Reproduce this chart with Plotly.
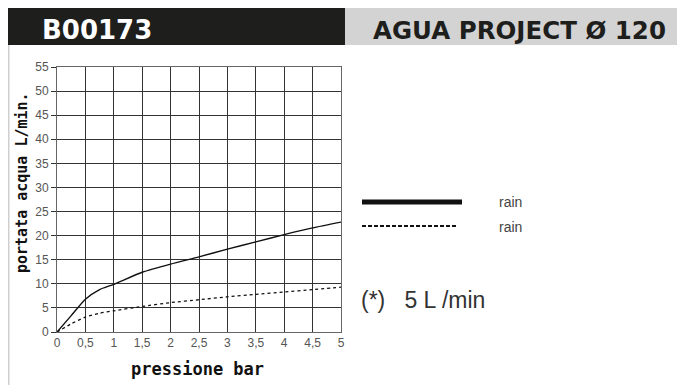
import plotly.graph_objects as go

# ---- data ----
pressure = [0, 0.25, 0.5, 0.75, 1, 1.5, 2, 2.5, 3, 3.5, 4, 4.5, 5]
flow_solid = [0, 3.4, 6.8, 8.8, 9.9, 12.4, 14.1, 15.6, 17.2, 18.7, 20.2, 21.6, 22.8]
flow_dashed = [0, 1.7, 3.1, 3.9, 4.4, 5.3, 6.1, 6.7, 7.3, 7.8, 8.3, 8.8, 9.3]
x_ticks = [0, 0.5, 1, 1.5, 2, 2.5, 3, 3.5, 4, 4.5, 5]
x_ticklabels = ["0", "0,5", "1", "1,5", "2", "2,5", "3", "3,5", "4", "4,5", "5"]
y_ticks = [0, 5, 10, 15, 20, 25, 30, 35, 40, 45, 50, 55]
legend_labels = ["rain", "rain"]
code = "B00173"
title = "AGUA PROJECT Ø 120"
note = "(*)   5 L /min"

OFF = 8  # page body margin
W, H = 685 - OFF, 385 - OFF
L, R, T, B = 57, 341, 67, 332


def px(x):
    return (x - L) / (R - L)


def py(y):
    return (B - y) / (B - T)


fig = go.Figure()
fig.add_trace(go.Scatter(x=pressure, y=flow_solid, mode="lines",
                         line=dict(color="#111", width=1.4, shape="spline", smoothing=0.6),
                         showlegend=False, hoverinfo="skip"))
fig.add_trace(go.Scatter(x=pressure, y=flow_dashed, mode="lines",
                         line=dict(color="#111", width=1.3, dash="3px,3px", shape="spline", smoothing=0.6),
                         showlegend=False, hoverinfo="skip"))

shapes = []
# header boxes
shapes.append(dict(type="rect", xref="paper", yref="paper", x0=px(6), x1=px(345), y0=py(45), y1=py(7),
                   fillcolor="#1e1e1c", line=dict(width=0), layer="below"))
shapes.append(dict(type="rect", xref="paper", yref="paper", x0=px(345), x1=px(690), y0=py(45), y1=py(7),
                   fillcolor="#d3d3d3", line=dict(width=0), layer="below"))
# left gray bar
shapes.append(dict(type="rect", xref="paper", yref="paper", x0=px(7), x1=px(9.5), y0=py(390), y1=py(45),
                   fillcolor="#cfcfcf", line=dict(width=0), layer="below"))
# legend samples
shapes.append(dict(type="line", xref="paper", yref="paper", x0=px(362), x1=px(462), y0=py(202), y1=py(202),
                   line=dict(color="#111", width=5)))
shapes.append(dict(type="line", xref="paper", yref="paper", x0=px(362), x1=px(458), y0=py(226), y1=py(226),
                   line=dict(color="#111", width=2, dash="4px,2px")))

annotations = [
    dict(text=code, x=px(40), y=py(30), xref="paper", yref="paper", xanchor="left", yanchor="middle",
         showarrow=False, font=dict(family="DejaVu Sans", size=26, color="white", weight="bold")),
    dict(text=title, x=px(371), y=py(30), xref="paper", yref="paper", xanchor="left", yanchor="middle",
         showarrow=False, font=dict(family="DejaVu Sans", size=24.5, color="#1e1e1c", weight="bold")),
    dict(text=legend_labels[0], x=px(497), y=py(202), xref="paper", yref="paper", xanchor="left",
         yanchor="middle", showarrow=False, font=dict(family="Liberation Sans", size=14, color="#444")),
    dict(text=legend_labels[1], x=px(497), y=py(227), xref="paper", yref="paper", xanchor="left",
         yanchor="middle", showarrow=False, font=dict(family="Liberation Sans", size=14, color="#444")),
    dict(text=note, x=px(359), y=py(300), xref="paper", yref="paper", xanchor="left", yanchor="middle",
         showarrow=False, font=dict(family="Liberation Sans", size=23, color="#333")),
    dict(text="pressione bar", x=px(197), y=py(369), xref="paper", yref="paper", xanchor="center",
         yanchor="middle", showarrow=False,
         font=dict(family="DejaVu Sans Mono", size=17, color="#111", weight="bold")),
    dict(text="portata acqua L/min.", x=px(22), y=py(183), xref="paper", yref="paper", xanchor="center",
         yanchor="middle", showarrow=False, textangle=-90,
         font=dict(family="DejaVu Sans Mono", size=15, color="#111", weight="bold")),
]

fig.update_layout(
    width=W, height=H,
    margin=dict(l=L - OFF, r=W - (R - OFF), t=T - OFF, b=H - (B - OFF), autoexpand=False),
    paper_bgcolor="white", plot_bgcolor="white",
    shapes=shapes, annotations=annotations,
    showlegend=False,
    xaxis=dict(range=[0, 5], tickvals=x_ticks, ticktext=x_ticklabels, showgrid=True,
               gridcolor="#333", gridwidth=1, showline=True, linecolor="#666", linewidth=1,
               mirror=True, ticks="", zeroline=False,
               tickfont=dict(family="Liberation Sans", size=12, color="#555"), fixedrange=True),
    yaxis=dict(range=[0, 55], tickvals=y_ticks, showgrid=True, gridcolor="#333", gridwidth=1,
               showline=True, linecolor="#666", linewidth=1, mirror=True, ticks="outside",
               ticklen=5, tickcolor="#333", zeroline=False,
               tickfont=dict(family="Liberation Sans", size=12, color="#555"), fixedrange=True),
)

fig.write_html("out.html")
